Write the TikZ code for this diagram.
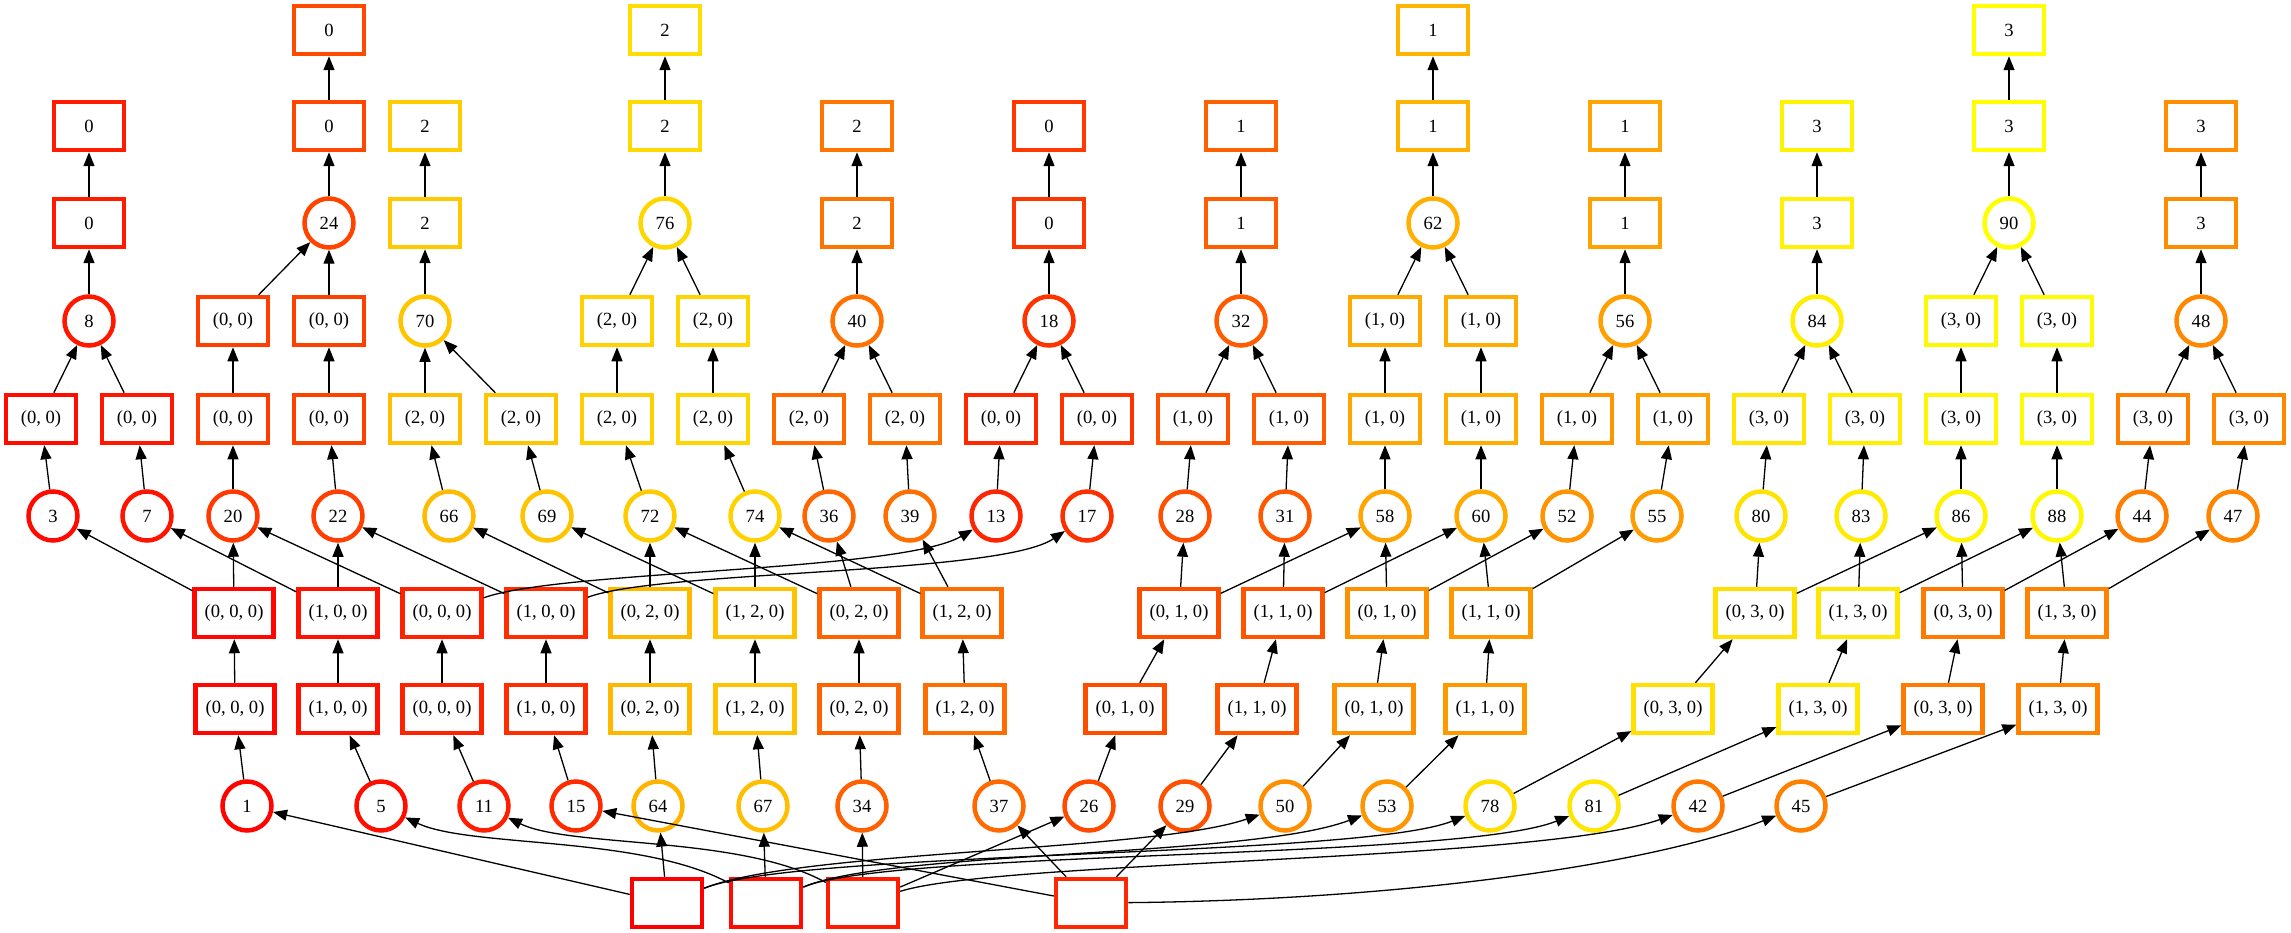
\documentclass[tikz,border=0pt]{standalone}
\usepackage{fontspec}
\setmainfont{Liberation Serif}
\usetikzlibrary{arrows.meta}
\begin{document}
\begin{tikzpicture}[x=1pt,y=-1pt,
  col/.code={\pgfmathtruncatemacro\gval{min(255,round(2.8334*#1))}\edef\tmp{\noexpand\pgfkeysalso{draw={rgb,255:red,255;green,\gval;blue,0}}}\tmp},
  bx/.style={rectangle, line width=4.5pt, fill=white, minimum width=70pt, minimum height=48pt, inner xsep=10pt, inner ysep=0pt, font=\fontsize{18.6}{20}\selectfont, col=#1},
  cc/.style={circle, line width=4.5pt, fill=white, minimum size=49pt, inner sep=0pt, font=\fontsize{18.6}{20}\selectfont, col=#1},
  e/.style={line width=1.3pt, draw=black, -{Triangle[length=14pt,width=11pt]}}]
\useasboundingbox (0,0) rectangle (2291,933);
% Row A
\node[bx=26] (a329) at (329,30) {0};
\node[bx=78] (a665) at (665,30) {2};
\node[bx=64] (a1433) at (1433,30) {1};
\node[bx=90] (a2009) at (2009,30) {3};
% Row B
\foreach \x/\l/\n in {89/0/10, 329/0/25, 425/2/72, 665/2/77, 857/2/42, 1049/0/20, 1241/1/34, 1433/1/63, 1625/1/58, 1817/3/86, 2009/3/90, 2201/3/50}
  \node[bx=\n] (b\x) at (\x,126) {\l};
% Row C
\foreach \x/\l/\n in {89/0/9, 425/2/71, 857/2/41, 1049/0/19, 1241/1/33, 1625/1/57, 1817/3/85, 2201/3/49}
  \node[bx=\n] (c\x) at (\x,223) {\l};
\foreach \x/\n in {329/24, 665/76, 1433/62, 2009/90}
  \node[cc=\n] (k\n) at (\x,223) {\n};
% Row D
\foreach \x/\n in {89/8, 425/70, 857/40, 1049/18, 1241/32, 1625/56, 1817/84, 2201/48}
  \node[cc=\n] (k\n) at (\x,321) {\n};
\foreach \x/\l/\n in {233/{(0, 0)}/22, 329/{(0, 0)}/23, 617/{(2, 0)}/74, 713/{(2, 0)}/75, 1385/{(1, 0)}/60, 1481/{(1, 0)}/61, 1961/{(3, 0)}/88, 2057/{(3, 0)}/89}
  \node[bx=\n] (d\x) at (\x,321) {\l};
% Row E
\foreach \x/\l/\n in {41/{(0, 0)}/4, 137/{(0, 0)}/8, 233/{(0, 0)}/21, 329/{(0, 0)}/23, 425/{(2, 0)}/67, 521/{(2, 0)}/70, 617/{(2, 0)}/73, 713/{(2, 0)}/75, 809/{(2, 0)}/37, 905/{(2, 0)}/40, 1001/{(0, 0)}/14, 1097/{(0, 0)}/18, 1193/{(1, 0)}/29, 1289/{(1, 0)}/32, 1385/{(1, 0)}/59, 1481/{(1, 0)}/61, 1577/{(1, 0)}/53, 1673/{(1, 0)}/56, 1769/{(3, 0)}/81, 1865/{(3, 0)}/84, 1961/{(3, 0)}/87, 2057/{(3, 0)}/89, 2153/{(3, 0)}/45, 2249/{(3, 0)}/48}
  \node[bx=\n] (e\x) at (\x,419) {\l};
% Row F
\foreach \x/\n in {53/3, 147/7, 233/20, 338/22, 449/66, 547/69, 650/72, 755/74, 829/36, 910/39, 996/13, 1087/17, 1185/28, 1285/31, 1385/58, 1481/60, 1567/52, 1657/55, 1761/80, 1861/83, 1961/86, 2057/88, 2142/44, 2233/47}
  \node[cc=\n] (f\n) at (\x,516) {\n};
% Row G
\foreach \x/\l/\n in {234/{(0, 0, 0)}/2, 338/{(1, 0, 0)}/6, 442/{(0, 0, 0)}/12, 546/{(1, 0, 0)}/16, 650/{(0, 2, 0)}/65, 755/{(1, 2, 0)}/68, 859/{(0, 2, 0)}/35, 962/{(1, 2, 0)}/38, 1179/{(0, 1, 0)}/27, 1283/{(1, 1, 0)}/30, 1387/{(0, 1, 0)}/51, 1491/{(1, 1, 0)}/54, 1755/{(0, 3, 0)}/79, 1858/{(1, 3, 0)}/82, 1963/{(0, 3, 0)}/43, 2067/{(1, 3, 0)}/46}
  \node[bx=\n] (g\n) at (\x,613) {\l};
% Row H
\foreach \x/\l/\n in {235/{(0, 0, 0)}/2, 338/{(1, 0, 0)}/6, 442/{(0, 0, 0)}/12, 546/{(1, 0, 0)}/16, 650/{(0, 2, 0)}/65, 755/{(1, 2, 0)}/68, 859/{(0, 2, 0)}/35, 965/{(1, 2, 0)}/38, 1125/{(0, 1, 0)}/27, 1257/{(1, 1, 0)}/30, 1374/{(0, 1, 0)}/51, 1485/{(1, 1, 0)}/54, 1673/{(0, 3, 0)}/79, 1818/{(1, 3, 0)}/82, 1943/{(0, 3, 0)}/43, 2058/{(1, 3, 0)}/46}
  \node[bx=\n] (h\n) at (\x,709) {\l};
% Row I
\foreach \x/\n in {247/1, 381/5, 484/11, 576/15, 658/64, 763/67, 862/34, 999/37, 1089/26, 1185/29, 1285/50, 1387/53, 1490/78, 1594/81, 1698/42, 1801/45}
  \node[cc=\n] (i\n) at (\x,806) {\n};
% Row J
\node[bx=0] (j1) at (667,903) {};
\node[bx=4] (j2) at (766,903) {};
\node[bx=10] (j3) at (863,903) {};
\node[bx=14] (j4) at (1091,903) {};

% Edges top part
\foreach \s/\t in {e41/k8, e137/k8, k8/c89, c89/b89,
  e233/d233, e329/d329, d233/k24, d329/k24, k24/b329, b329/a329,
  e425/k70, e521/k70, k70/c425, c425/b425,
  e617/d617, e713/d713, d617/k76, d713/k76, k76/b665, b665/a665,
  e809/k40, e905/k40, k40/c857, c857/b857,
  e1001/k18, e1097/k18, k18/c1049, c1049/b1049,
  e1193/k32, e1289/k32, k32/c1241, c1241/b1241,
  e1385/d1385, e1481/d1481, d1385/k62, d1481/k62, k62/b1433, b1433/a1433,
  e1577/k56, e1673/k56, k56/c1625, c1625/b1625,
  e1769/k84, e1865/k84, k84/c1817, c1817/b1817,
  e1961/d1961, e2057/d2057, d1961/k90, d2057/k90, k90/b2009, b2009/a2009,
  e2153/k48, e2249/k48, k48/c2201, c2201/b2201}
  \draw[e] (\s) -- (\t);
% F -> E
\foreach \s/\t in {f3/e41, f7/e137, f20/e233, f22/e329, f66/e425, f69/e521, f72/e617, f74/e713, f36/e809, f39/e905, f13/e1001, f17/e1097, f28/e1193, f31/e1289, f58/e1385, f60/e1481, f52/e1577, f55/e1673, f80/e1769, f83/e1865, f86/e1961, f88/e2057, f44/e2153, f47/e2249}
  \draw[e] (\s) -- (\t);
% G -> F
\foreach \s/\t in {g2/f3, g2/f20, g6/f7, g6/f22, g12/f20, g16/f22,
  g65/f66, g65/f72, g68/f69, g68/f74, g35/f72, g35/f36, g38/f74, g38/f39,
  g27/f28, g27/f58, g30/f31, g30/f60, g51/f58, g51/f52, g54/f60, g54/f55,
  g79/f80, g79/f86, g82/f83, g82/f88, g43/f86, g43/f44, g46/f88, g46/f47}
  \draw[e] (\s) -- (\t);
\draw[e] (g12) .. controls (560,570) and (900,572) .. (f13);
\draw[e] (g16) .. controls (660,570) and (1000,575) .. (f17);
% H -> G
\foreach \n in {2,6,12,16,65,68,35,38,27,30,51,54,79,82,43,46}
  \draw[e] (h\n) -- (g\n);
% I -> H
\foreach \s/\t in {1/2, 5/6, 11/12, 15/16, 64/65, 67/68, 34/35, 37/38, 26/27, 29/30, 50/51, 53/54, 78/79, 81/82, 42/43, 45/46}
  \draw[e] (i\s) -- (h\t);
% J -> I
\draw[e] (j1) -- (i1);
\draw[e] (j1) -- (i64);
\draw[e] (j1) .. controls (800,850) and (1150,852) .. (i50);
\draw[e] (j1) .. controls (800,850) and (1360,858) .. (i78);
\draw[e] (j2) .. controls (640,835) and (470,848) .. (i5);
\draw[e] (j2) -- (i67);
\draw[e] (j2) .. controls (890,850) and (1250,858) .. (i53);
\draw[e] (j2) .. controls (890,850) and (1460,860) .. (i81);
\draw[e] (j3) .. controls (740,835) and (570,848) .. (i11);
\draw[e] (j3) -- (i34);
\draw[e] (j3) -- (i26);
\draw[e] (j3) .. controls (1000,860) and (1540,862) .. (i42);
\draw[e] (j4) -- (i15);
\draw[e] (j4) -- (i37);
\draw[e] (j4) -- (i29);
\draw[e] (j4) .. controls (1400,900) and (1650,865) .. (i45);
\end{tikzpicture}
\end{document}
